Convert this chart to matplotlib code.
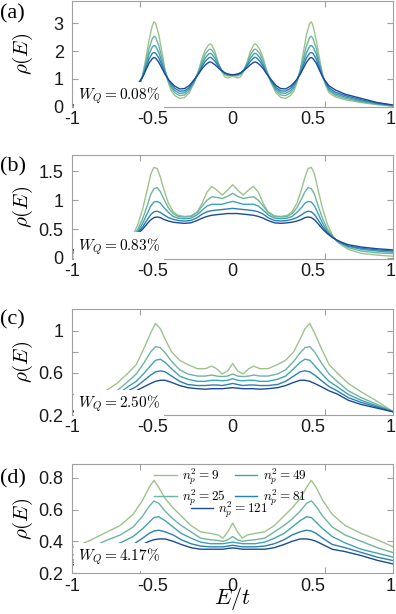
import numpy as np
import matplotlib.pyplot as plt

plt.rcParams['mathtext.fontset'] = 'cm'
plt.rcParams['font.family'] = ['Liberation Sans', 'DejaVu Sans']

# valores de n_p^2, colores de cada curva y textos
np2 = [9, 25, 49, 81, 121]
colores = ['#9dc38b', '#6db5a0', '#41a3b5', '#2b7fb3', '#1c4b94']
wq = ['0.08', '0.83', '2.50', '4.17']
paneles = ['(a)', '(b)', '(c)', '(d)']
xticklab = ['-1', '-0.5', '0', '0.5', '1']

# Panel (a), W_Q = 0.08%
Ea = [-1.0, -0.9, -0.8, -0.7, -0.64, -0.6, -0.58, -0.56, -0.54, -0.52, -0.5, -0.49, -0.48, -0.46,
      -0.44, -0.42, -0.4, -0.38, -0.36, -0.33, -0.3, -0.27, -0.24, -0.21, -0.19, -0.17, -0.15, -0.14,
      -0.13, -0.11, -0.09, -0.07, -0.05, -0.03, -0.015, 0.0,
      0.015, 0.03, 0.05, 0.07, 0.09, 0.11, 0.13, 0.14, 0.15, 0.17, 0.19, 0.21, 0.24, 0.27, 0.3, 0.33,
      0.36, 0.38, 0.4, 0.42, 0.44, 0.46, 0.48, 0.49, 0.5, 0.52, 0.54, 0.56, 0.58, 0.6, 0.64, 0.7,
      0.8, 0.9, 1.0]
a9 = [0.02, 0.07, 0.15, 0.25, 0.35, 0.5, 0.75, 1.15, 1.75, 2.4, 2.92, 3.05, 3.0, 2.6, 1.95, 1.3,
      0.85, 0.55, 0.4, 0.3, 0.33, 0.5, 0.85, 1.35, 1.75, 2.05, 2.22, 2.26, 2.22, 1.98, 1.6, 1.28,
      1.08, 1.03, 1.07, 1.1,
      1.07, 1.03, 1.08, 1.28, 1.6, 1.98, 2.22, 2.26, 2.22, 2.05, 1.75, 1.35, 0.85, 0.5, 0.33, 0.3,
      0.4, 0.55, 0.85, 1.3, 1.95, 2.6, 3.0, 3.05, 2.92, 2.4, 1.75, 1.15, 0.75, 0.5, 0.35, 0.25,
      0.15, 0.07, 0.02]
a25 = [0.03, 0.09, 0.18, 0.3, 0.41, 0.57, 0.8, 1.12, 1.6, 2.1, 2.45, 2.53, 2.5, 2.2, 1.75, 1.28,
       0.92, 0.65, 0.5, 0.4, 0.42, 0.57, 0.88, 1.3, 1.63, 1.9, 2.04, 2.07, 2.04, 1.86, 1.57, 1.32,
       1.16, 1.11, 1.12, 1.13,
       1.12, 1.11, 1.16, 1.32, 1.57, 1.86, 2.04, 2.07, 2.04, 1.9, 1.63, 1.3, 0.88, 0.57, 0.42, 0.4,
       0.5, 0.65, 0.92, 1.28, 1.75, 2.2, 2.5, 2.53, 2.45, 2.1, 1.6, 1.12, 0.8, 0.57, 0.41, 0.3,
       0.18, 0.09, 0.03]
a49 = [0.04, 0.11, 0.21, 0.35, 0.46, 0.62, 0.83, 1.1, 1.5, 1.9, 2.15, 2.2, 2.18, 1.95, 1.6, 1.24,
       0.95, 0.72, 0.58, 0.48, 0.5, 0.63, 0.9, 1.25, 1.53, 1.76, 1.89, 1.92, 1.89, 1.74, 1.52, 1.33,
       1.2, 1.15, 1.14, 1.14,
       1.14, 1.15, 1.2, 1.33, 1.52, 1.74, 1.89, 1.92, 1.89, 1.76, 1.53, 1.25, 0.9, 0.63, 0.5, 0.48,
       0.58, 0.72, 0.95, 1.24, 1.6, 1.95, 2.18, 2.2, 2.15, 1.9, 1.5, 1.1, 0.83, 0.62, 0.46, 0.35,
       0.21, 0.11, 0.04]
a81 = [0.05, 0.13, 0.25, 0.4, 0.52, 0.68, 0.86, 1.08, 1.4, 1.72, 1.92, 1.95, 1.93, 1.76, 1.48, 1.2,
       0.97, 0.8, 0.66, 0.56, 0.57, 0.69, 0.93, 1.22, 1.45, 1.63, 1.75, 1.78, 1.75, 1.63, 1.47, 1.32,
       1.22, 1.17, 1.15, 1.15,
       1.15, 1.17, 1.22, 1.32, 1.47, 1.63, 1.75, 1.78, 1.75, 1.63, 1.45, 1.22, 0.93, 0.69, 0.57, 0.56,
       0.66, 0.8, 0.97, 1.2, 1.48, 1.76, 1.93, 1.95, 1.92, 1.72, 1.4, 1.08, 0.86, 0.68, 0.52, 0.4,
       0.25, 0.13, 0.05]
a121 = [0.06, 0.15, 0.3, 0.45, 0.6, 0.75, 0.9, 1.07, 1.32, 1.57, 1.73, 1.77, 1.75, 1.6, 1.38, 1.16,
        0.98, 0.85, 0.74, 0.64, 0.65, 0.76, 0.97, 1.2, 1.37, 1.5, 1.59, 1.61, 1.59, 1.51, 1.4, 1.3,
        1.22, 1.17, 1.16, 1.15,
        1.16, 1.17, 1.22, 1.3, 1.4, 1.51, 1.59, 1.61, 1.59, 1.5, 1.37, 1.2, 0.97, 0.76, 0.65, 0.64,
        0.74, 0.85, 0.98, 1.16, 1.38, 1.6, 1.75, 1.77, 1.73, 1.57, 1.32, 1.07, 0.9, 0.75, 0.6, 0.45,
        0.3, 0.15, 0.06]

# Panel (b), W_Q = 0.83%
Eb = [-1.0, -0.9, -0.8, -0.72, -0.68, -0.65, -0.62, -0.59, -0.56, -0.53, -0.51, -0.49, -0.47, -0.45,
      -0.43, -0.4, -0.37, -0.34, -0.3, -0.26, -0.22, -0.19, -0.16, -0.13, -0.1, -0.065, -0.03, 0.0,
      0.03, 0.065, 0.1, 0.13, 0.16, 0.19, 0.22, 0.26, 0.3, 0.34, 0.37, 0.4, 0.43, 0.45, 0.47, 0.49,
      0.51, 0.53, 0.56, 0.59, 0.62, 0.65, 0.68, 0.72, 0.8, 0.9, 1.0]
b9 = [0.03, 0.05, 0.08, 0.15, 0.22, 0.28, 0.4, 0.58, 0.85, 1.2, 1.45, 1.57, 1.55, 1.4, 1.2, 0.95,
      0.8, 0.74, 0.72, 0.73, 0.8, 0.95, 1.14, 1.24, 1.18, 1.09, 1.18, 1.27,
      1.18, 1.09, 1.18, 1.24, 1.14, 0.95, 0.8, 0.73, 0.72, 0.74, 0.8, 0.95, 1.2, 1.4, 1.55, 1.57,
      1.45, 1.2, 0.85, 0.58, 0.4, 0.28, 0.22, 0.15, 0.08, 0.05, 0.03]
b25 = [0.075, 0.09, 0.12, 0.18, 0.24, 0.29, 0.38, 0.5, 0.68, 0.92, 1.1, 1.2, 1.22, 1.15, 1.03, 0.87,
       0.77, 0.72, 0.71, 0.72, 0.79, 0.9, 1.0, 1.06, 1.05, 1.03, 1.07, 1.12,
       1.07, 1.03, 1.05, 1.06, 1.0, 0.9, 0.79, 0.72, 0.71, 0.72, 0.77, 0.87, 1.03, 1.15, 1.22, 1.2,
       1.1, 0.92, 0.68, 0.5, 0.38, 0.29, 0.24, 0.18, 0.12, 0.09, 0.075]
b49 = [0.1, 0.12, 0.15, 0.2, 0.25, 0.3, 0.37, 0.46, 0.6, 0.78, 0.9, 0.97, 0.98, 0.95, 0.88, 0.79,
       0.72, 0.69, 0.68, 0.69, 0.75, 0.83, 0.9, 0.93, 0.93, 0.93, 0.96, 0.98,
       0.96, 0.93, 0.93, 0.93, 0.9, 0.83, 0.75, 0.69, 0.68, 0.69, 0.72, 0.79, 0.88, 0.95, 0.98, 0.97,
       0.9, 0.78, 0.6, 0.46, 0.37, 0.3, 0.25, 0.2, 0.15, 0.12, 0.1]
b81 = [0.12, 0.14, 0.17, 0.21, 0.26, 0.3, 0.36, 0.44, 0.54, 0.67, 0.75, 0.8, 0.81, 0.79, 0.75, 0.7,
       0.67, 0.65, 0.64, 0.65, 0.7, 0.76, 0.8, 0.82, 0.83, 0.84, 0.85, 0.86,
       0.85, 0.84, 0.83, 0.82, 0.8, 0.76, 0.7, 0.65, 0.64, 0.65, 0.67, 0.7, 0.75, 0.79, 0.81, 0.8,
       0.75, 0.67, 0.54, 0.44, 0.36, 0.3, 0.26, 0.21, 0.17, 0.14, 0.12]
b121 = [0.14, 0.16, 0.19, 0.23, 0.27, 0.31, 0.36, 0.42, 0.5, 0.6, 0.66, 0.7, 0.71, 0.7, 0.67, 0.64,
        0.62, 0.61, 0.6, 0.61, 0.65, 0.69, 0.72, 0.74, 0.75, 0.76, 0.77, 0.77,
        0.77, 0.76, 0.75, 0.74, 0.72, 0.69, 0.65, 0.61, 0.6, 0.61, 0.62, 0.64, 0.67, 0.7, 0.71, 0.7,
        0.66, 0.6, 0.5, 0.42, 0.36, 0.31, 0.27, 0.23, 0.19, 0.16, 0.14]

# Panel (c), W_Q = 2.50%
Ec = [-1.0, -0.9, -0.8, -0.72, -0.65, -0.6, -0.55, -0.51, -0.48, -0.45, -0.42, -0.38, -0.33, -0.28,
      -0.22, -0.17, -0.13, -0.1, -0.065, -0.03, 0.0,
      0.03, 0.065, 0.1, 0.13, 0.17, 0.22, 0.28, 0.33, 0.38, 0.42, 0.45, 0.48, 0.51, 0.55, 0.6, 0.65,
      0.72, 0.8, 0.9, 1.0]
c9 = [0.23, 0.33, 0.42, 0.5, 0.6, 0.68, 0.84, 0.98, 1.07, 1.02, 0.92, 0.8, 0.72, 0.68, 0.64, 0.64,
      0.665, 0.64, 0.59, 0.62, 0.69,
      0.62, 0.59, 0.64, 0.665, 0.64, 0.64, 0.68, 0.72, 0.8, 0.92, 1.02, 1.07, 0.98, 0.84, 0.68, 0.6,
      0.5, 0.42, 0.33, 0.23]
c25 = [0.23, 0.3, 0.365, 0.43, 0.52, 0.59, 0.7, 0.8, 0.85, 0.84, 0.79, 0.71, 0.63, 0.59, 0.57, 0.57,
       0.58, 0.57, 0.565, 0.57, 0.59,
       0.57, 0.565, 0.57, 0.58, 0.57, 0.57, 0.59, 0.63, 0.71, 0.79, 0.84, 0.85, 0.8, 0.7, 0.59, 0.52,
       0.43, 0.365, 0.3, 0.23]
c49 = [0.23, 0.285, 0.34, 0.395, 0.47, 0.52, 0.6, 0.67, 0.72, 0.73, 0.7, 0.64, 0.57, 0.54, 0.52,
       0.52, 0.53, 0.53, 0.525, 0.53, 0.545,
       0.53, 0.525, 0.53, 0.53, 0.52, 0.52, 0.54, 0.57, 0.64, 0.7, 0.73, 0.72, 0.67, 0.6, 0.52, 0.47,
       0.395, 0.34, 0.285, 0.23]
c81 = [0.23, 0.275, 0.32, 0.365, 0.43, 0.47, 0.53, 0.58, 0.61, 0.62, 0.61, 0.57, 0.52, 0.49, 0.48,
       0.48, 0.485, 0.485, 0.48, 0.49, 0.5,
       0.49, 0.48, 0.485, 0.485, 0.48, 0.48, 0.49, 0.52, 0.57, 0.61, 0.62, 0.61, 0.58, 0.53, 0.47,
       0.43, 0.365, 0.32, 0.275, 0.23]
c121 = [0.23, 0.265, 0.3, 0.34, 0.4, 0.43, 0.47, 0.5, 0.52, 0.53, 0.53, 0.51, 0.48, 0.46, 0.45,
        0.445, 0.45, 0.45, 0.45, 0.455, 0.46,
        0.455, 0.45, 0.45, 0.45, 0.445, 0.45, 0.46, 0.48, 0.51, 0.53, 0.53, 0.52, 0.5, 0.47, 0.43,
        0.4, 0.34, 0.3, 0.265, 0.23]

# Panel (d), W_Q = 4.17%
Ed = [-1.0, -0.9, -0.8, -0.7, -0.62, -0.56, -0.52, -0.49, -0.46, -0.42, -0.37, -0.32, -0.26, -0.2,
      -0.14, -0.09, -0.06, -0.03, 0.0,
      0.03, 0.06, 0.09, 0.14, 0.2, 0.26, 0.32, 0.37, 0.42, 0.46, 0.49, 0.52, 0.56, 0.62, 0.7, 0.8,
      0.9, 1.0]
d9 = [0.36, 0.4, 0.45, 0.5, 0.57, 0.66, 0.74, 0.785, 0.74, 0.67, 0.61, 0.56, 0.5, 0.46, 0.45, 0.44,
      0.42, 0.46, 0.515,
      0.46, 0.42, 0.44, 0.45, 0.46, 0.5, 0.56, 0.61, 0.67, 0.74, 0.785, 0.74, 0.66, 0.57, 0.5, 0.45,
      0.41, 0.365]
d25 = [0.31, 0.35, 0.4, 0.44, 0.49, 0.56, 0.62, 0.655, 0.64, 0.59, 0.54, 0.5, 0.46, 0.42, 0.41,
       0.405, 0.4, 0.41, 0.43,
       0.41, 0.4, 0.405, 0.41, 0.42, 0.46, 0.5, 0.54, 0.59, 0.64, 0.655, 0.62, 0.56, 0.49, 0.44, 0.4,
       0.36, 0.328]
d49 = [0.28, 0.31, 0.35, 0.39, 0.43, 0.48, 0.52, 0.55, 0.555, 0.53, 0.49, 0.45, 0.42, 0.395, 0.385,
       0.385, 0.385, 0.39, 0.395,
       0.39, 0.385, 0.385, 0.385, 0.395, 0.42, 0.45, 0.49, 0.53, 0.555, 0.55, 0.52, 0.48, 0.43, 0.39,
       0.35, 0.325, 0.3]
d81 = [0.265, 0.29, 0.33, 0.36, 0.38, 0.42, 0.45, 0.465, 0.47, 0.46, 0.44, 0.41, 0.385, 0.37, 0.365,
       0.365, 0.365, 0.37, 0.375,
       0.37, 0.365, 0.365, 0.365, 0.37, 0.385, 0.41, 0.44, 0.46, 0.47, 0.465, 0.45, 0.42, 0.38, 0.36,
       0.33, 0.3, 0.278]
d121 = [0.25, 0.275, 0.31, 0.335, 0.35, 0.38, 0.4, 0.41, 0.415, 0.415, 0.4, 0.38, 0.36, 0.35, 0.35,
        0.35, 0.35, 0.355, 0.358,
        0.355, 0.35, 0.35, 0.35, 0.35, 0.36, 0.38, 0.4, 0.415, 0.415, 0.41, 0.4, 0.38, 0.35, 0.335,
        0.31, 0.28, 0.257]

energias = [Ea, Eb, Ec, Ed]
curvas = [[a9, a25, a49, a81, a121],
          [b9, b25, b49, b81, b121],
          [c9, c25, c49, c81, c121],
          [d9, d25, d49, d81, d121]]
limites_y = [(0, 3.81), (-0.0225, 1.79), (0.211, 1.207), (0.197, 0.888)]
yticks = [[0, 1, 2, 3], [0, 0.5, 1, 1.5], [0.2, 0.4, 0.6, 0.8, 1.0], [0.2, 0.4, 0.6, 0.8]]
yticklab = [['0', '1', '2', '3'], ['0', '0.5', '1', '1.5'], ['0.2', '', '0.6', '', '1'],
            ['0.2', '0.4', '0.6', '0.8']]

# posiciones de los ejes (izquierda, abajo, ancho, alto) en fraccion de figura
cajas = [[0.1818, 0.8262, 0.8114, 0.1726],
         [0.1818, 0.5777, 0.8114, 0.1704],
         [0.1818, 0.3241, 0.8114, 0.1726],
         [0.1818, 0.0660, 0.8114, 0.1783]]
y_wq = [0.103, 0.122, 0.104, 0.15]
y_panel = [0.977, 0.728, 0.479, 0.22]
gris = '#a0a0a0'

fig = plt.figure(figsize=(3.96, 6.14), dpi=100)

for k in range(4):
    ax = fig.add_axes(cajas[k])
    lineas = []
    for j in range(5):
        l, = ax.plot(energias[k], curvas[k][j], color=colores[j], lw=1.0,
                     label=r'$n_p^2 = %d$' % np2[j])
        lineas.append(l)
    ax.set_xlim(-1, 1)
    ax.set_ylim(*limites_y[k])
    # etiquetas del eje x sin marca (la ultima algo hacia dentro), marcas reales aparte
    ax.set_xticks([-1, -0.5, 0, 0.5, 0.985])
    ax.set_xticklabels(xticklab)
    ax.set_xticks([-0.577, 0, 0.577], minor=True)
    ax.tick_params(axis='x', which='major', length=0, pad=3, labelsize=13, labelcolor='#1a1a1a')
    ax.tick_params(axis='x', which='minor', direction='in', length=4, top=True, bottom=True,
                   color=gris, width=0.8)
    ax.set_yticks(yticks[k])
    ax.set_yticklabels(yticklab[k])
    ax.tick_params(axis='y', which='major', direction='in', length=4, left=True, right=True,
                   color=gris, width=0.8, pad=6, labelsize=13, labelcolor='#1a1a1a')
    for s in ax.spines.values():
        s.set_color(gris)
        s.set_linewidth(0.8)
    ax.set_ylabel(r'$\rho(E)$', fontsize=15)
    ax.yaxis.set_label_coords(-0.115, 0.5)
    ax.text(0.019, y_wq[k], r'$W_Q = %s\%%$' % wq[k], transform=ax.transAxes, fontsize=11,
            va='center', ha='left', zorder=5,
            bbox=dict(boxstyle='square,pad=0.25', fc='white', ec='none'))
    fig.text(0.0, y_panel[k], paneles[k], family='Liberation Serif', fontsize=16,
             va='center', ha='left')
    if k == 3:
        leg1 = ax.legend(lineas[:4], [l.get_label() for l in lineas[:4]], ncol=2,
                         loc='upper center', bbox_to_anchor=(0.493, 0.977), frameon=False,
                         fontsize=9.5, handlelength=1.7, handletextpad=0.4, columnspacing=0.7,
                         labelspacing=0.0, borderaxespad=0, borderpad=0)
        ax.add_artist(leg1)
        ax.legend([lineas[4]], [lineas[4].get_label()], loc='center',
                  bbox_to_anchor=(0.49, 0.585), frameon=False, fontsize=9.5,
                  handlelength=1.7, handletextpad=0.4, borderaxespad=0, borderpad=0)

# etiqueta del eje x en la parte baja de la figura
fig.text(0.1818 + 0.8114 / 2, 0.004, r'$E/t$', fontsize=16, ha='center', va='bottom')

fig.savefig('out.png', dpi=100)
